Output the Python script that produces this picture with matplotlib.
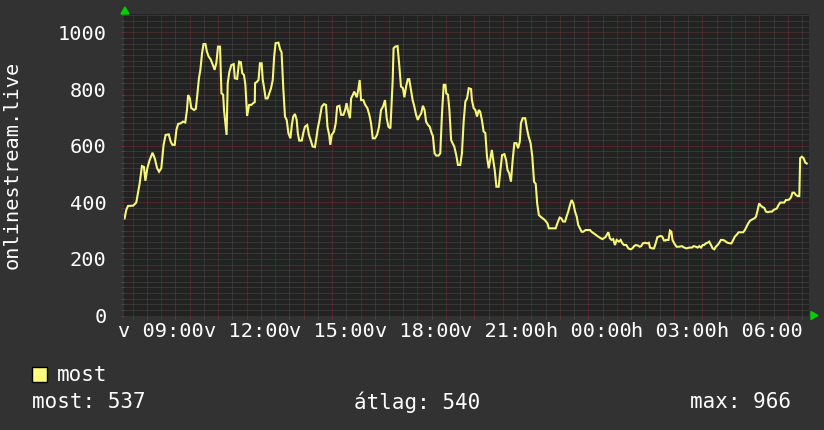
import matplotlib
matplotlib.use("Agg")
import matplotlib.pyplot as plt
import matplotlib.patches as patches
from matplotlib.ticker import MultipleLocator, FuncFormatter

# time in hours since Sunday 00:00
hours = [
    7.72, 7.78, 7.84, 8.02, 8.13, 8.19, 8.25, 8.33, 8.40, 8.45, 8.52, 8.60,
    8.70, 8.78, 8.86, 8.93, 9.01, 9.09, 9.16, 9.27, 9.34, 9.40, 9.48, 9.54,
    9.60, 9.69, 9.77, 9.85, 9.91, 9.95, 10.01, 10.06, 10.16, 10.22, 10.26,
    10.33, 10.38, 10.44, 10.49, 10.56, 10.61, 10.67, 10.74, 10.82, 10.88,
    10.94, 11.00, 11.07, 11.12, 11.18, 11.21, 11.26, 11.30, 11.34, 11.40,
    11.47, 11.55, 11.59, 11.67, 11.74, 11.80, 11.85, 11.91, 11.96, 12.02,
    12.09, 12.17, 12.23, 12.29,
    12.30, 12.36, 12.42, 12.47, 12.53, 12.57, 12.61, 12.67, 12.74, 12.80,
    12.86, 12.92, 12.97, 13.02, 13.12, 13.18, 13.23, 13.29, 13.35, 13.41,
    13.47, 13.54, 13.59, 13.64, 13.70, 13.76, 13.80, 13.85, 13.94, 13.99,
    14.05, 14.13, 14.19, 14.25, 14.32, 14.40, 14.45, 14.50, 14.56, 14.64,
    14.72, 14.79, 14.84, 14.90, 14.94, 14.99, 15.07, 15.13, 15.18, 15.26,
    15.32, 15.40, 15.46, 15.51, 15.57, 15.63, 15.67, 15.73, 15.78, 15.87,
    15.92, 15.97, 16.02, 16.10, 16.16, 16.24, 16.31, 16.37, 16.43, 16.51,
    16.58, 16.65, 16.72, 16.79, 16.86, 16.92, 16.98, 17.05, 17.09, 17.13,
    17.16,
    17.22, 17.30, 17.36, 17.42, 17.49, 17.54, 17.60, 17.66, 17.71, 17.77,
    17.83, 17.89, 17.95, 18.01, 18.06, 18.13, 18.19, 18.25, 18.30, 18.37,
    18.43, 18.49, 18.54, 18.60, 18.66, 18.74, 18.80, 18.86, 18.92, 18.98,
    19.01, 19.07, 19.12, 19.18, 19.23, 19.29, 19.36, 19.42, 19.50, 19.56,
    19.62, 19.68, 19.74, 19.80, 19.88, 19.91, 19.97, 20.03, 20.09, 20.15,
    20.20, 20.26, 20.32, 20.38, 20.44, 20.50, 20.56, 20.61, 20.65, 20.71,
    20.77, 20.85, 20.91, 20.97, 21.05, 21.11, 21.16, 21.22, 21.28, 21.34,
    21.40, 21.47, 21.53, 21.59, 21.63, 21.69, 21.78, 21.84, 21.90,
    21.97, 22.03, 22.09, 22.15, 22.20, 22.26, 22.32, 22.40, 22.47, 22.56,
    22.61, 22.73, 22.85, 22.91, 22.99, 23.05, 23.11, 23.18, 23.23, 23.29,
    23.35, 23.41, 23.47, 23.53, 23.59, 23.64, 23.70, 23.76, 23.82, 23.90,
    23.99, 24.05, 24.13, 24.22, 24.31, 24.37, 24.43, 24.49, 24.54, 24.60,
    24.66, 24.70, 24.75, 24.81, 24.87, 24.93, 24.99, 25.07, 25.13, 25.19,
    25.25, 25.33, 25.40, 25.48, 25.54, 25.60, 25.66, 25.74, 25.80, 25.85,
    25.91, 25.98, 26.06, 26.12, 26.16, 26.24, 26.30, 26.36, 26.42, 26.47,
    26.53, 26.59, 26.65, 26.71,
    26.72, 26.81, 26.86, 26.91, 26.95, 27.01, 27.09, 27.19, 27.28, 27.36,
    27.44, 27.54, 27.63, 27.69, 27.77, 27.83, 27.89, 27.95, 28.01, 28.06,
    28.12, 28.18, 28.24, 28.30, 28.36, 28.42, 28.47, 28.53, 28.59, 28.65,
    28.71, 28.77, 28.82, 28.88, 28.97, 29.02, 29.08, 29.14, 29.20, 29.27,
    29.35, 29.43, 29.49, 29.55, 29.61, 29.67, 29.74, 29.82, 29.88, 29.94,
    29.99, 30.05, 30.11, 30.17, 30.23, 30.29, 30.37, 30.44, 30.50, 30.56,
    30.61, 30.67, 30.73, 30.81, 30.87, 30.93, 30.99, 31.05, 31.11, 31.16,
    31.22, 31.28, 31.34, 31.40, 31.43, 31.49, 31.55, 31.61, 31.66,
]
viewers = [
    343, 373, 387, 388, 399, 432, 467, 528, 525, 476, 521, 549,
    575, 555, 521, 508, 521, 603, 638, 640, 614, 603, 603, 656,
    677, 679, 685, 682, 726, 779, 767, 733, 726, 730, 767,
    838, 868, 927, 959, 959, 932, 915, 905, 885, 868,
    892, 950, 950, 785, 780, 726, 679, 638, 821, 862,
    885, 888, 838, 836, 897, 895, 856, 850, 815, 705,
    744, 744, 750, 754,
    821, 825, 832, 891, 891, 832, 809, 767, 767, 785,
    803, 832, 915, 962, 964, 940, 930, 803, 703, 691,
    644, 626, 673, 703, 712, 691, 644, 618, 618, 644,
    667, 673, 638, 620, 597, 595, 626, 661, 691, 738,
    747, 744, 667, 638, 603, 638, 650, 679, 738, 741,
    709, 709, 726, 750, 720, 697, 767, 779, 791, 771,
    797, 832, 761, 761, 745, 733, 709, 679, 626, 626,
    638, 667, 726, 738, 761, 697, 667, 661, 750, 832,
    944,
    950, 952, 885, 809, 803, 771, 809, 835, 835, 797,
    761, 738, 709, 691, 703, 714, 741, 726, 685, 673,
    667, 646, 634, 573, 565, 565, 573, 714, 815, 815,
    785, 780, 726, 620, 609, 597, 567, 532, 532, 573,
    685, 756, 767, 803, 800, 761, 733, 726, 703, 726,
    720, 691, 650, 645, 561, 520, 555, 585, 555, 514,
    455, 455, 514, 567, 570, 549, 514, 502, 473, 549,
    609, 609, 591, 614, 679, 697, 697, 661, 632,
    609, 561, 473, 465, 396, 355, 349, 343, 337, 326,
    308, 308, 308, 326, 346, 343, 332, 332, 349, 367,
    390, 408, 396, 367, 349, 320, 308, 296, 296, 302,
    302, 302, 294, 288, 281, 277, 273, 270, 273, 277,
    288, 294, 273, 267, 270, 249, 267, 261, 267, 255,
    249, 249, 237, 234, 237, 245, 249, 247, 243, 245,
    255, 257, 255, 257, 240, 237, 237, 255, 277, 279,
    281, 279, 265, 265,
    267, 267, 300, 296, 267, 255, 243, 243, 245, 240,
    237, 240, 240, 245, 243, 240, 245, 240, 249, 249,
    255, 257, 261, 249, 237, 234, 243, 249, 257, 267,
    267, 265, 261, 257, 255, 255, 267, 279, 285, 294,
    294, 294, 302, 314, 326, 335, 339, 343, 349, 373,
    396, 388, 383, 380, 367, 365, 367, 367, 373, 376,
    378, 390, 399, 399, 399, 408, 408, 410, 418, 434,
    434, 426, 422, 422, 556, 561, 556, 540, 537,
]

series_name = "most"
y_label = "onlinestream.live"
stat_labels = ["most: 537", "átlag: 540", "max: 966"]

BG = "#323232"
CANVAS = "#222222"
LINE = "#f6f67a"
MINOR = "#4a4a4a"
MAJOR = "#6e3030"
FONT = "DejaVu Sans Mono"

W, H = 824, 430
fig = plt.figure(figsize=(W / 100, H / 100), dpi=100, facecolor=BG)
left, right, top, bottom = 124, 809, 13.5, 315.5
ax = fig.add_axes([left / W, 1 - bottom / H, (right - left) / W, (bottom - top) / H])
ax.set_facecolor(CANVAS)

ax.set_xlim(7.70, 31.74)
ax.set_ylim(0, 1067)

ax.xaxis.set_major_locator(MultipleLocator(1))
ax.xaxis.set_minor_locator(MultipleLocator(0.5))
ax.yaxis.set_major_locator(MultipleLocator(200))
ax.yaxis.set_minor_locator(MultipleLocator(20))

def time_label(h, pos):
    h = int(round(h))
    if h % 3:
        return ""
    day = "v" if h < 24 else "h"
    return "%s %02d:00" % (day, h % 24)

ax.xaxis.set_major_formatter(FuncFormatter(time_label))

dots = (0, (1, 1))
ax.grid(which="minor", color=MINOR, linestyle=dots, linewidth=0.72)
ax.grid(which="major", color=MAJOR, linestyle=dots, linewidth=0.72)
ax.set_axisbelow(True)

for s in ax.spines.values():
    s.set_visible(False)

ax.tick_params(axis="x", which="major", colors=MAJOR, length=2.5, width=0.72,
               labelcolor="white", labelsize=14.6, pad=2.5)
ax.tick_params(axis="x", which="minor", colors=MINOR, length=2.5, width=0.72)
ax.tick_params(axis="y", which="major", colors=MAJOR, length=2.5, width=0.72,
               labelcolor="white", labelsize=14.6, pad=10)
ax.tick_params(axis="y", which="minor", colors=MINOR, length=2.5, width=0.72)
for lab in ax.get_xticklabels() + ax.get_yticklabels():
    lab.set_fontfamily(FONT)

ax.plot(hours, viewers, color=LINE, linewidth=1.5, solid_joinstyle="miter")

# little green arrows at the ends of the axes
fig.patches.append(patches.Polygon([[121 / W, 1 - 14 / H], [129 / W, 1 - 14 / H],
                                    [125 / W, 1 - 7 / H]], closed=True,
                                   transform=fig.transFigure, color="#00d000"))
fig.patches.append(patches.Polygon([[811 / W, 1 - 311.5 / H], [811 / W, 1 - 319.5 / H],
                                    [818 / W, 1 - 315.5 / H]], closed=True,
                                   transform=fig.transFigure, color="#00d000"))

fig.text(12 / W, 1 - 165 / H, y_label, rotation=90, ha="center", va="center",
         color="white", fontsize=14.6, family=FONT)

# legend
fig.patches.append(patches.Rectangle((32 / W, 1 - 382 / H), 15 / W, 15 / H,
                                     transform=fig.transFigure, facecolor="#ffff80",
                                     edgecolor="black", linewidth=1))
fig.text(57 / W, 1 - 375 / H, series_name, ha="left", va="center",
         color="white", fontsize=15, family=FONT)
fig.text(32 / W, 1 - 402 / H, stat_labels[0], ha="left", va="center",
         color="white", fontsize=15, family=FONT)
fig.text(354 / W, 1 - 402 / H, stat_labels[1], ha="left", va="center",
         color="white", fontsize=15, family=FONT)
fig.text(791 / W, 1 - 402 / H, stat_labels[2], ha="right", va="center",
         color="white", fontsize=15, family=FONT)

fig.savefig("out.png", dpi=100, facecolor=BG)
